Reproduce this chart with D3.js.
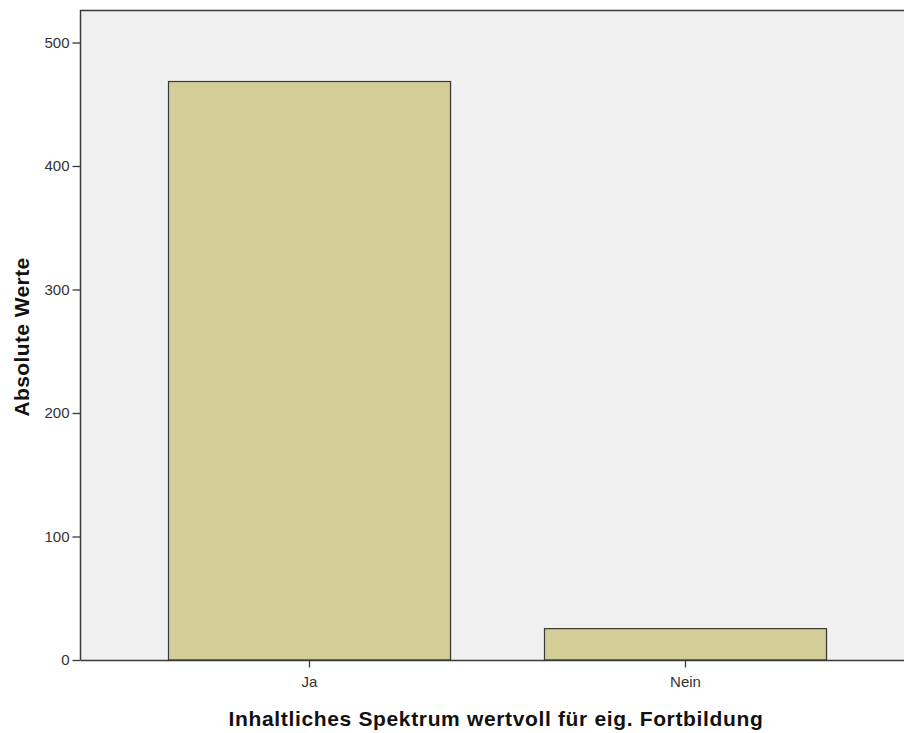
<!DOCTYPE html>
<html><head><meta charset="utf-8">
<script src="https://cdn.jsdelivr.net/npm/d3@7"></script>
<style>
html,body{margin:0;padding:0;background:#fff;}
svg{display:block;}
</style></head>
<body>
<svg id="chart" width="904" height="733"></svg>
<script>
const categories = ["Ja", "Nein"];
const values = [468, 25];
const yTicks = [0, 100, 200, 300, 400, 500];
const xTitle = "Inhaltliches Spektrum wertvoll für eig. Fortbildung";
const yTitle = "Absolute Werte";

(function () {
const svg = d3.select("#chart");
const pLeft = 80, pTop = 10, pRight = 910, pBottom = 660;
const y = d3.scaleLinear().domain([0, 500]).range([pBottom, 42.5]);
const x = d3.scaleBand().domain(categories).range([121, 873]).paddingInner(0.25).paddingOuter(0.125);

svg.append("rect").attr("x", pLeft).attr("y", pTop).attr("width", pRight - pLeft).attr("height", pBottom - pTop)
  .attr("fill", "#f0f0f0");

// bars
const g = svg.append("g");
categories.forEach((c, i) => {
  g.append("rect")
    .attr("x", x(c) + 1.5).attr("y", y(values[i]) + 0.5)
    .attr("width", x.bandwidth()).attr("height", pBottom - y(values[i]))
    .attr("fill", "#bdbdbd").attr("opacity", 0.6);
  g.append("rect")
    .attr("x", x(c) + 0.5).attr("y", y(values[i]) - 0.5)
    .attr("width", x.bandwidth()).attr("height", pBottom - y(values[i]) + 0.5)
    .attr("fill", "#d3ce97").attr("stroke", "#3a3a3a").attr("stroke-width", 1.2);
});

// frame top
svg.append("line").attr("x1", pLeft).attr("x2", 904).attr("y1", pTop + 0.5).attr("y2", pTop + 0.5)
  .attr("stroke", "#3a3a3a").attr("stroke-width", 1.5);

// y axis
const yAxis = d3.axisLeft(y).tickValues(yTicks).tickSize(8).tickPadding(3).tickFormat(d3.format("d"));
const ya = svg.append("g").attr("transform", `translate(${pLeft + 0.5},0)`).call(yAxis);
ya.select(".domain").attr("d", `M0,${pTop}V${pBottom}`).attr("stroke", "#3a3a3a").attr("stroke-width", 1.5);
ya.selectAll(".tick line").attr("stroke", "#3a3a3a").attr("stroke-width", 1.3);
ya.selectAll(".tick text").attr("font-family", "'Liberation Sans', Arial, sans-serif").attr("font-size", 15).attr("fill", "#333");

// x axis
const xAxis = d3.axisBottom(x).tickSize(7).tickPadding(9);
const xa = svg.append("g").attr("transform", `translate(0.5,${pBottom + 0.5})`).call(xAxis);
xa.select(".domain").attr("d", `M${pLeft},0H904`).attr("stroke", "#3a3a3a").attr("stroke-width", 1.5);
xa.selectAll(".tick line").attr("stroke", "#3a3a3a").attr("stroke-width", 1.3);
xa.selectAll(".tick text").attr("font-family", "'Liberation Sans', Arial, sans-serif").attr("font-size", 15).attr("fill", "#333");

// titles
svg.append("text").attr("x", 496).attr("y", 726).attr("text-anchor", "middle")
  .attr("font-family", "'Liberation Sans', Arial, sans-serif").attr("font-weight", "bold").attr("font-size", 21)
  .attr("letter-spacing", 0.65)
  .attr("fill", "#111").text(xTitle);
svg.append("text").attr("transform", "translate(29,337) rotate(-90)").attr("text-anchor", "middle")
  .attr("font-family", "'Liberation Sans', Arial, sans-serif").attr("font-weight", "bold").attr("font-size", 21)
  .attr("letter-spacing", 0.4)
  .attr("fill", "#111").text(yTitle);
})();
</script>
</body></html>
